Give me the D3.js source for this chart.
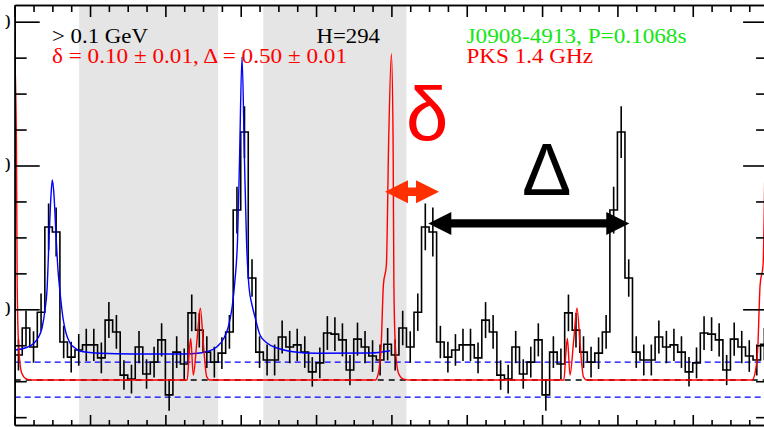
<!DOCTYPE html>
<html>
<head>
<meta charset="utf-8">
<script src="https://cdn.jsdelivr.net/npm/d3@7"></script>
<style>
body { margin: 0; background: #fff; }
svg { display: block; }
.axis path, .axis line { stroke: #000; stroke-width: 1.6; }
</style>
</head>
<body>
<svg></svg>
<script>
// gamma-ray counts per phase bin (50 bins, one rotation)
var binValues = [27.3, 34.8, 29.5, 39.2, 62.9, 61.5, 30.9, 26.7, 28.7, 30.1,
                 30.1, 26.5, 37.0, 33.7, 21.7, 20.6, 29.5, 22.0, 25.3, 31.5,
                 16.2, 28.1, 24.8, 39.0, 34.2, 28.1, 25.3, 27.8, 33.7, 67.6,
                 89.3, 48.7, 28.1, 25.9, 25.9, 32.3, 29.5, 30.1, 28.1, 22.6,
                 25.1, 33.4, 33.1, 31.5, 23.1, 31.7, 29.5, 27.0, 25.9, 30.3];
var binErrors = [4.3, 4.8, 4.4, 5.2, 6.5, 6.8, 4.5, 4.3, 4.4, 4.5,
                 4.5, 4.3, 5.0, 4.7, 4.1, 4.0, 4.5, 4.1, 4.3, 4.6,
                 4.4, 4.4, 4.3, 5.1, 4.8, 4.4, 4.3, 4.4, 4.7, 6.5,
                 7.2, 5.2, 4.4, 4.3, 4.3, 4.6, 4.5, 4.5, 4.4, 4.1,
                 4.3, 4.7, 4.7, 4.6, 4.2, 4.6, 4.5, 4.4, 4.3, 4.5];

// two-peak fit (phase 0..1)
var bluePhase = [0.0008, 0.0273, 0.0486, 0.0619, 0.0725, 0.0804, 0.0858, 0.0911, 0.0964, 0.0998,
                 0.1043, 0.1096, 0.1149, 0.1203, 0.1282, 0.1362, 0.1468, 0.1601, 0.1734, 0.1999,
                 0.2265, 0.3140, 0.4468, 0.4919, 0.5105, 0.5370, 0.5556, 0.5662, 0.5769, 0.5848,
                 0.5915, 0.5968, 0.6034, 0.6100, 0.6153, 0.6220, 0.6300, 0.6379, 0.6512, 0.6698,
                 0.6963, 0.7388, 0.8025, 0.9432, 0.9963];
var blueValue = [28.68, 29.24, 30.35, 32.02, 34.80, 39.81, 45.37, 59.28, 71.79, 75.97,
                 71.79, 60.67, 50.93, 44.81, 37.58, 33.41, 30.63, 29.24, 28.40, 27.98,
                 27.76, 27.57, 27.57, 27.84, 28.21, 29.60, 32.02, 34.80, 40.36, 48.15,
                 59.28, 81.53, 110.18, 81.53, 59.28, 46.20, 41.20, 37.86, 32.85, 30.63,
                 29.24, 28.21, 27.76, 27.84, 28.48];

// radio profile, one rotation
var radioPhase = [0.000, 0.0045, 0.0066, 0.0106, 0.0186, 0.0319, 0.050, 0.458, 0.4628, 0.4672,
                  0.4741, 0.484, 0.4927, 0.501, 0.5097, 0.5185, 0.9575, 0.9655, 0.9727, 0.9788,
                  0.9867, 0.9928];
var radioValue = [111.0, 87.1, 46.8, 29.5, 22.3, 20.6, 20.33, 20.33, 27.3, 31.9,
                  21.7, 31.5, 40.3, 30.1, 21.25, 20.33, 20.33, 22.3, 29.5, 46.8,
                  52.4, 87.1];

var offPulse = [[0.171, 0.540], [0.660, 1.040]];
var blueLevels = [25.3, 15.6];
var radioLevel = 20.33;

var xMajor = [0, 0.2, 0.4, 0.6, 0.8, 1.0, 1.2, 1.4, 1.6, 1.8, 2.0];
var xMinor = [0.05, 0.1, 0.15, 0.25, 0.3, 0.35, 0.45, 0.5, 0.55, 0.65, 0.7, 0.75, 0.85, 0.9, 0.95,
              1.05, 1.1, 1.15, 1.25, 1.3, 1.35, 1.45, 1.5, 1.55, 1.65, 1.7, 1.75, 1.85, 1.9, 1.95];
var yMajor = [40, 80, 120];
var yMinor = [10, 20, 30, 50, 60, 70, 90, 100, 110];

var svg = d3.select("svg")
    .attr("width", 764)
    .attr("height", 427);

var x = d3.scaleLinear().domain([0, 2]).range([14.7, 768.1]);
var y = d3.scaleLinear().domain([7.82, 124.64]).range([425, 5]);

svg.append("defs").append("clipPath")
    .attr("id", "plot")
    .append("rect")
    .attr("x", x(0)).attr("y", y(124.64))
    .attr("width", x(2) - x(0)).attr("height", y(7.82) - y(124.64));

svg.append("defs").append("clipPath")
    .attr("id", "lab")
    .append("rect")
    .attr("x", 5.5).attr("y", 0).attr("width", 10).attr("height", 427);

var plot = svg.append("g").attr("clip-path", "url(#plot)");

// off-pulse bands
plot.selectAll("rect.band")
    .data(offPulse)
    .enter().append("rect")
    .attr("class", "band")
    .attr("x", function(d) { return x(d[0]); })
    .attr("width", function(d) { return x(d[1]) - x(d[0]); })
    .attr("y", y(124.64))
    .attr("height", y(7.82) - y(124.64))
    .attr("fill", "#e5e5e5");

plot.selectAll("line.blev")
    .data(blueLevels)
    .enter().append("line")
    .attr("x1", x(0)).attr("x2", x(2))
    .attr("y1", function(d) { return y(d); })
    .attr("y2", function(d) { return y(d); })
    .attr("stroke", "#0000ff")
    .attr("stroke-width", 1.3)
    .attr("stroke-dasharray", "6,4");

plot.append("line")
    .attr("x1", x(0)).attr("x2", x(2))
    .attr("y1", y(radioLevel)).attr("y2", y(radioLevel))
    .attr("stroke", "#000")
    .attr("stroke-width", 1.3)
    .attr("stroke-dasharray", "6,5");

// histogram, shown for two rotations
var bins = [];
for (var c = 0; c < 2; c++)
{
    binValues.forEach(function(v, i)
    {
        bins.push({ p: c + i * 0.02, v: v, e: binErrors[i] });
    });
}

var step = d3.line()
    .x(function(d) { return x(d.p); })
    .y(function(d) { return y(d.v); })
    .curve(d3.curveStepAfter);

plot.append("path")
    .datum(bins.concat([{ p: 2, v: bins[bins.length - 1].v }]))
    .attr("d", step)
    .attr("fill", "none")
    .attr("stroke", "#000")
    .attr("stroke-width", 1.6);

plot.selectAll("line.err")
    .data(bins)
    .enter().append("line")
    .attr("class", "err")
    .attr("x1", function(d) { return x(d.p + 0.01); })
    .attr("x2", function(d) { return x(d.p + 0.01); })
    .attr("y1", function(d) { return y(d.v - d.e); })
    .attr("y2", function(d) { return y(d.v + d.e); })
    .attr("stroke", "#000")
    .attr("stroke-width", 1.6);

var curve = d3.line()
    .x(function(d) { return x(d[0]); })
    .y(function(d) { return y(d[1]); })
    .curve(d3.curveMonotoneX);

plot.append("path")
    .datum(bluePhase.map(function(p, i) { return [p, blueValue[i]]; }))
    .attr("d", curve)
    .attr("fill", "none")
    .attr("stroke", "#0000ff")
    .attr("stroke-width", 1.4);

var radio = [];
for (var r = 0; r < 2; r++)
{
    radioPhase.forEach(function(p, i) { radio.push([r + p, radioValue[i]]); });
}
radio.push([2, radioValue[0]]);

plot.append("path")
    .datum(radio)
    .attr("d", curve)
    .attr("fill", "none")
    .attr("stroke", "#ff0000")
    .attr("stroke-width", 1.4);

// frame and ticks
function addAxis(axis, tx, ty)
{
    svg.append("g")
        .attr("class", "axis")
        .attr("transform", "translate(" + tx + "," + ty + ")")
        .call(axis)
        .call(function(g) { g.selectAll("text").remove(); });
}

addAxis(d3.axisBottom(x).tickValues(xMajor).tickSizeInner(12).tickSizeOuter(0), 0, 5);
addAxis(d3.axisBottom(x).tickValues(xMinor).tickSizeInner(7).tickSizeOuter(0), 0, 5);
addAxis(d3.axisTop(x).tickValues(xMajor).tickSizeInner(10).tickSizeOuter(0), 0, 425);
addAxis(d3.axisTop(x).tickValues(xMinor).tickSizeInner(5).tickSizeOuter(0), 0, 425);
addAxis(d3.axisRight(y).tickValues(yMajor).tickSizeInner(25).tickSizeOuter(0), x(0), 0);
addAxis(d3.axisRight(y).tickValues(yMinor).tickSizeInner(12).tickSizeOuter(0), x(0), 0);
addAxis(d3.axisLeft(y).tickValues(yMajor).tickSizeInner(25).tickSizeOuter(0), x(2), 0);
addAxis(d3.axisLeft(y).tickValues(yMinor).tickSizeInner(12).tickSizeOuter(0), x(2), 0);

// y labels, mostly cut off at the page edge
svg.append("g")
    .attr("clip-path", "url(#lab)")
    .selectAll("text")
    .data(yMajor)
    .enter().append("text")
    .attr("x", 10.5)
    .attr("y", function(d) { return y(d); })
    .attr("dy", "0.35em")
    .attr("text-anchor", "end")
    .attr("font-family", "'Liberation Serif', serif")
    .attr("font-size", 20)
    .text(function(d) { return d; });

// annotations
var notes = [
    { t: "> 0.1 GeV", x: 52, y: 43, w: 96, c: "#000" },
    { t: "δ = 0.10 ± 0.01, Δ = 0.50 ± 0.01", x: 52, y: 63, w: 295, c: "#ff0000" },
    { t: "H=294", x: 316.5, y: 43, w: 63.5, c: "#000" },
    { t: "J0908-4913, P=0.1068s", x: 466.5, y: 43, w: 220, c: "#14e614" },
    { t: "PKS 1.4 GHz", x: 466.5, y: 63, w: 126.5, c: "#ff0000" }
];

svg.selectAll("text.note")
    .data(notes)
    .enter().append("text")
    .attr("class", "note")
    .attr("x", function(d) { return d.x; })
    .attr("y", function(d) { return d.y; })
    .attr("textLength", function(d) { return d.w; })
    .attr("lengthAdjust", "spacingAndGlyphs")
    .attr("font-family", "'Liberation Serif', serif")
    .attr("font-size", 20)
    .attr("fill", function(d) { return d.c; })
    .text(function(d) { return d.t; });

svg.append("text")
    .attr("x", 406).attr("y", 140)
    .attr("font-family", "'Liberation Sans', sans-serif")
    .attr("font-size", 76)
    .attr("fill", "#ff0000")
    .text("δ");

svg.append("text")
    .attr("x", 522).attr("y", 195)
    .attr("font-family", "'Liberation Sans', sans-serif")
    .attr("font-size", 74)
    .attr("fill", "#000")
    .text("Δ");

function doubleArrow(p1, p2, v, col)
{
    var x1 = x(p1), x2 = x(p2), yc = y(v);
    var hl = 23, hh = 11.5, sh = 4.2;
    var pts = [[x1, yc], [x1 + hl, yc - hh], [x1 + hl, yc - sh], [x2 - hl, yc - sh],
               [x2 - hl, yc - hh], [x2, yc], [x2 - hl, yc + hh], [x2 - hl, yc + sh],
               [x1 + hl, yc + sh], [x1 + hl, yc + hh]];
    svg.append("path")
        .attr("d", "M" + pts.join("L") + "Z")
        .attr("fill", col);
}

doubleArrow(0.983, 1.1264, 72.7, "#ff3000");
doubleArrow(1.098, 1.6315, 63.9, "#000");
</script>
</body>
</html>
